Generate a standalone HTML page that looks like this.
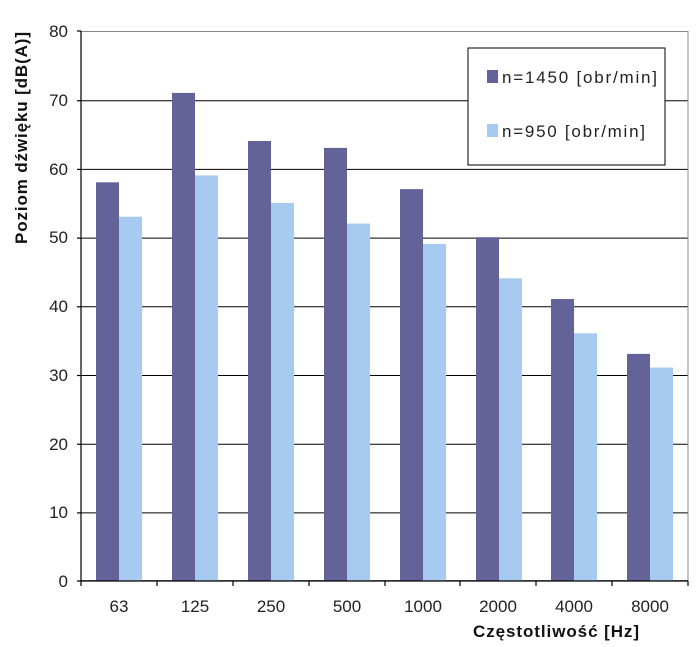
<!DOCTYPE html>
<html><head><meta charset="utf-8"><style>body{margin:0;background:#fff}svg{display:block}</style></head><body>
<svg width="700" height="647" xmlns="http://www.w3.org/2000/svg" font-family="Liberation Sans, sans-serif">
<g stroke="#000" stroke-width="1">
<line x1="81" y1="100.7" x2="688" y2="100.7"/>
<line x1="81" y1="169.4" x2="688" y2="169.4"/>
<line x1="81" y1="238.1" x2="688" y2="238.1"/>
<line x1="81" y1="306.8" x2="688" y2="306.8"/>
<line x1="81" y1="375.5" x2="688" y2="375.5"/>
<line x1="81" y1="444.2" x2="688" y2="444.2"/>
<line x1="81" y1="512.9" x2="688" y2="512.9"/>
</g>
<rect x="81" y="31.5" width="607" height="549" fill="none" stroke="#888" stroke-width="1"/>
<g fill="#636399">
<rect x="96" y="182.3" width="23" height="398.3"/>
<rect x="172" y="92.9" width="23" height="487.7"/>
<rect x="248" y="141" width="23" height="439.6"/>
<rect x="324" y="147.9" width="23" height="432.7"/>
<rect x="400" y="189.1" width="23" height="391.5"/>
<rect x="476" y="237.2" width="23" height="343.4"/>
<rect x="551" y="299" width="23" height="281.6"/>
<rect x="627" y="353.9" width="23" height="226.7"/>
</g>
<g fill="#a6caf0">
<rect x="119" y="216.7" width="23" height="363.9"/>
<rect x="195" y="175.4" width="23" height="405.2"/>
<rect x="271" y="203" width="23" height="377.6"/>
<rect x="347" y="223.6" width="23" height="357"/>
<rect x="423" y="244" width="23" height="336.6"/>
<rect x="499" y="278.3" width="23" height="302.3"/>
<rect x="574" y="333.3" width="23" height="247.3"/>
<rect x="650" y="367.6" width="23" height="213"/>
</g>
<g stroke="#000" stroke-width="1.2">
<line x1="81" y1="31" x2="81" y2="581"/>
<line x1="77" y1="581" x2="688" y2="581"/>
<line x1="77" y1="31" x2="81" y2="31"/><line x1="77" y1="100.7" x2="81" y2="100.7"/><line x1="77" y1="169.4" x2="81" y2="169.4"/><line x1="77" y1="238.1" x2="81" y2="238.1"/><line x1="77" y1="306.8" x2="81" y2="306.8"/><line x1="77" y1="375.5" x2="81" y2="375.5"/><line x1="77" y1="444.2" x2="81" y2="444.2"/><line x1="77" y1="512.9" x2="81" y2="512.9"/>
<line x1="81" y1="581" x2="81" y2="586"/><line x1="157" y1="581" x2="157" y2="586"/><line x1="233" y1="581" x2="233" y2="586"/><line x1="309" y1="581" x2="309" y2="586"/><line x1="385" y1="581" x2="385" y2="586"/><line x1="460" y1="581" x2="460" y2="586"/><line x1="536" y1="581" x2="536" y2="586"/><line x1="612" y1="581" x2="612" y2="586"/><line x1="688" y1="581" x2="688" y2="586"/>
</g>
<g font-size="17" fill="#222" text-anchor="end">
<text x="68" y="37">80</text><text x="68" y="106">70</text><text x="68" y="175">60</text><text x="68" y="243">50</text><text x="68" y="312">40</text><text x="68" y="381">30</text><text x="68" y="450">20</text><text x="68" y="518">10</text><text x="68" y="587">0</text>
</g>
<g font-size="17" fill="#222" text-anchor="middle">
<text x="119" y="612">63</text><text x="195" y="612">125</text><text x="271" y="612">250</text><text x="347" y="612">500</text><text x="423" y="612">1000</text><text x="498" y="612">2000</text><text x="574" y="612">4000</text><text x="650" y="612">8000</text>
</g>
<text x="556" y="637" font-size="17" font-weight="bold" text-anchor="middle" fill="#111" textLength="166">Częstotliwość [Hz]</text>
<text transform="translate(27,138) rotate(-90)" font-size="17" font-weight="bold" text-anchor="middle" fill="#111" textLength="212">Poziom dźwięku [dB(A)]</text>
<rect x="468" y="48" width="197" height="117" fill="#fff" stroke="#000" stroke-width="1"/>
<rect x="487" y="70" width="11" height="13" fill="#636399"/>
<rect x="487" y="124" width="11" height="13" fill="#a6caf0"/>
<g font-size="17" fill="#222"><text x="502" y="83" textLength="155">n=1450 [obr/min]</text><text x="502" y="137" textLength="143">n=950 [obr/min]</text></g>
</svg>
</body></html>
